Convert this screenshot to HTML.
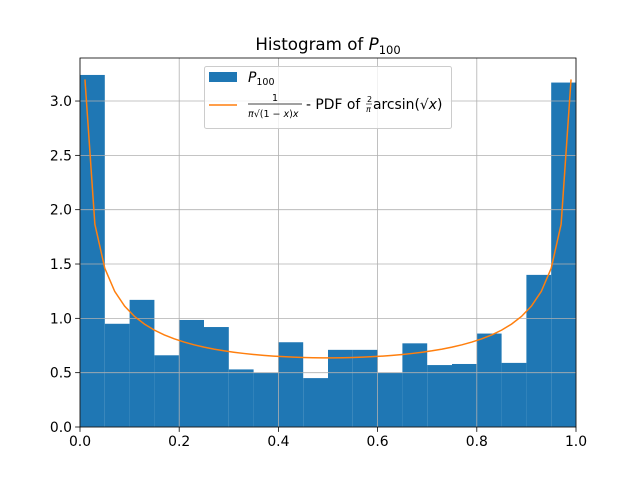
<!DOCTYPE html>
<html><head><meta charset="utf-8"><style>
body{margin:0;background:#fff}
svg text{font-family:"DejaVu Sans","Liberation Sans",sans-serif;fill:#000}
</style></head><body>
<svg id="chart" width="640" height="480" xmlns="http://www.w3.org/2000/svg">
<rect width="640" height="480" fill="#fff"/>
<g id="bars"></g><g id="grid"></g><g id="curve"></g><g id="ticks"></g>
<rect x="80" y="58" width="496" height="369" fill="none" stroke="#000" stroke-width="0.8"/>
<text x="328" y="50" font-size="16.7" text-anchor="middle">Histogram of <tspan font-style="italic">P</tspan><tspan font-size="11.5" dy="4">100</tspan></text>
<g>
<rect x="204.5" y="66.5" width="247" height="62" rx="2" fill="#fff" fill-opacity="0.8" stroke="#ccc"/>
<rect x="209" y="72" width="28" height="10" fill="#1f77b4"/>
<text x="248" y="82" font-size="13.9"><tspan font-style="italic">P</tspan><tspan font-size="9.5" dy="3">100</tspan></text>
<line x1="209" y1="105" x2="237" y2="105" stroke="#ff7f0e" stroke-width="1.5"/>
<g>
<text x="275" y="101" font-size="9.5" text-anchor="middle">1</text>
<line x1="248" y1="104" x2="302" y2="104" stroke="#000" stroke-width="0.7"/>
<text x="248" y="117" font-size="9.5"><tspan font-style="italic">π</tspan>√(1 − <tspan font-style="italic">x</tspan>)<tspan font-style="italic">x</tspan></text>
<text x="306" y="109" font-size="13.9">- PDF of</text>
<text x="367" y="102" font-size="8">2</text>
<line x1="366" y1="104" x2="372" y2="104" stroke="#000" stroke-width="0.6"/>
<text x="366" y="112" font-size="8" font-style="italic">π</text>
<text x="373" y="109" font-size="13.9">arcsin(√<tspan font-style="italic">x</tspan>)</text>
</g></g>
</svg>
<script>
const binEdgesStart = [0,0.05,0.1,0.15,0.2,0.25,0.3,0.35,0.4,0.45,0.5,0.55,0.6,0.65,0.7,0.75,0.8,0.85,0.9,0.95];
const binHeights = [3.24,0.95,1.17,0.66,0.985,0.92,0.53,0.50,0.78,0.45,0.71,0.71,0.50,0.77,0.57,0.58,0.86,0.59,1.40,3.17];
const binWidth = 0.05;
const pdfX = [0.01,0.03,0.05,0.07,0.09,0.11,0.13,0.15,0.17,0.19,0.21,0.23,0.25,0.27,0.29,0.31,0.33,0.35,0.37,0.39,0.41,0.43,0.45,0.47,0.49,0.51,0.53,0.55,0.57,0.59,0.61,0.63,0.65,0.67,0.69,0.71,0.73,0.75,0.77,0.79,0.81,0.83,0.85,0.87,0.89,0.91,0.93,0.95,0.97,0.99];
const pdfY = [3.199,1.866,1.461,1.248,1.112,1.017,0.9465,0.8914,0.8474,0.8114,0.7815,0.7564,0.7351,0.7169,0.7015,0.6883,0.6770,0.6674,0.6593,0.6526,0.6472,0.6430,0.6398,0.6378,0.6367,0.6367,0.6378,0.6398,0.6430,0.6472,0.6526,0.6593,0.6674,0.6770,0.6883,0.7015,0.7169,0.7351,0.7564,0.7815,0.8114,0.8474,0.8914,0.9465,1.017,1.112,1.248,1.461,1.866,3.199];
const xTicks = [0,0.2,0.4,0.6,0.8,1.0];
const xTickLabels = ["0.0","0.2","0.4","0.6","0.8","1.0"];
const yTicks = [0,0.5,1,1.5,2,2.5,3];
const yTickLabels = ["0.0","0.5","1.0","1.5","2.0","2.5","3.0"];
const NS="http://www.w3.org/2000/svg";
const X0=80,X1=576,Y0=427,YTOP=58,YMAX=3.396;
const sx=v=>X0+v*(X1-X0);
const sy=v=>Y0-v/YMAX*(Y0-YTOP);
function mk(t,a,p){const e=document.createElementNS(NS,t);for(const k in a)e.setAttribute(k,a[k]);p.appendChild(e);return e;}
const bars=document.getElementById('bars');
binHeights.forEach((h,i)=>{
 const x=sx(binEdgesStart[i]),w=sx(binEdgesStart[i]+binWidth)-x;
 const r=mk('rect',{x:x,y:sy(h),width:w,height:Y0-sy(h),fill:'#1f77b4'},bars);
 
 
});
const grid=document.getElementById('grid'),ticks=document.getElementById('ticks');
xTicks.forEach((v,i)=>{
 const g=mk('line',{x1:sx(v),x2:sx(v),y1:YTOP,y2:Y0,stroke:'#b0b0b0','stroke-width':0.8},grid);
 
 
 mk('line',{x1:sx(v),x2:sx(v),y1:Y0,y2:Y0+4.9,stroke:'#000','stroke-width':0.8},ticks);
 const t=mk('text',{x:sx(v),y:Y0+19,'font-size':13.9,'text-anchor':'middle'},ticks);
 t.textContent=xTickLabels[i];
 
 
});
yTicks.forEach((v,i)=>{
 const g=mk('line',{x1:X0,x2:X1,y1:sy(v),y2:sy(v),stroke:'#b0b0b0','stroke-width':0.8},grid);
 
 
 mk('line',{x1:X0-4.9,x2:X0,y1:sy(v),y2:sy(v),stroke:'#000','stroke-width':0.8},ticks);
 const t=mk('text',{x:X0-8,y:sy(v)+5,'font-size':13.9,'text-anchor':'end'},ticks);
 t.textContent=yTickLabels[i];
 
 
});
const pts=pdfX.map((x,i)=>sx(x)+','+sy(pdfY[i])).join(' ');
const pl=mk('polyline',{points:pts,fill:'none',stroke:'#ff7f0e','stroke-width':1.5},document.getElementById('curve'));


</script>
</body></html>
